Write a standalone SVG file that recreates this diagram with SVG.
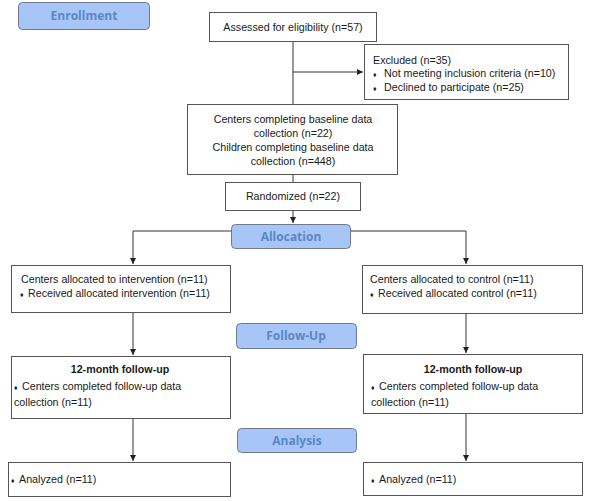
<svg xmlns="http://www.w3.org/2000/svg" width="593" height="501" viewBox="0 0 593 501">
<style>
.bg{fill:#ffffff}
.box{fill:#ffffff;stroke:#555555;stroke-width:1}
.stage{fill:#a8c5f8;stroke:#6f7a8c;stroke-width:1}
.st{font-family:"Open Sans","Liberation Sans",sans-serif;font-weight:700;font-size:12px;fill:#5b87c4;text-anchor:middle}
.t{font-family:"Liberation Sans",Arial,sans-serif;font-size:10.7px;fill:#1a1a1a}
.c{text-anchor:middle}
.b{font-weight:700}
.bul{font-size:7px}
.ln{fill:none;stroke:#333333;stroke-width:1}
</style>
<defs>
<marker id="ah" markerWidth="8" markerHeight="8" refX="6" refY="3" orient="auto" markerUnits="userSpaceOnUse">
<path d="M0,0 L6,3 L0,6 z" fill="#222222"/>
</marker>
</defs>
<rect class="bg" x="0" y="0" width="593" height="501"/>

<g id="connectors">
<line class="ln" x1="293" y1="41" x2="293" y2="104"/>
<line class="ln" x1="293" y1="72" x2="363" y2="72" marker-end="url(#ah)"/>
<line class="ln" x1="293" y1="174" x2="293" y2="182"/>
<line class="ln" x1="293" y1="210" x2="293" y2="223" marker-end="url(#ah)"/>
<line class="ln" x1="133" y1="231" x2="232" y2="231"/>
<line class="ln" x1="350" y1="231" x2="466" y2="231"/>
<line class="ln" x1="133" y1="231" x2="133" y2="264" marker-end="url(#ah)"/>
<line class="ln" x1="466" y1="231" x2="466" y2="264" marker-end="url(#ah)"/>
<line class="ln" x1="133" y1="312" x2="133" y2="355" marker-end="url(#ah)"/>
<line class="ln" x1="466" y1="313" x2="466" y2="353" marker-end="url(#ah)"/>
<line class="ln" x1="133" y1="418" x2="133" y2="461" marker-end="url(#ah)"/>
<line class="ln" x1="466" y1="413" x2="466" y2="461" marker-end="url(#ah)"/>
</g>

<g id="enrollment">
<rect class="stage" x="18.5" y="2.5" width="131" height="27" rx="4"/>
<text class="st" x="84" y="20">Enrollment</text>
</g>

<g id="assessed">
<rect class="box" x="209.5" y="12.5" width="167" height="29"/>
<text class="t c" x="293" y="31">Assessed for eligibility (n=57)</text>
</g>

<g id="excluded">
<rect class="box" x="364.5" y="44.5" width="204" height="55"/>
<text class="t" x="373" y="64">Excluded (n=35)</text>
<text class="t" y="77"><tspan class="bul" x="373">♦</tspan><tspan x="384">Not meeting inclusion criteria (n=10)</tspan></text>
<text class="t" y="91"><tspan class="bul" x="373">♦</tspan><tspan x="384">Declined to participate (n=25)</tspan></text>
</g>

<g id="baseline">
<rect class="box" x="187.5" y="104.5" width="210" height="70"/>
<text class="t c" x="293" y="123">Centers completing baseline data</text>
<text class="t c" x="293" y="137">collection (n=22)</text>
<text class="t c" x="293" y="151">Children completing baseline data</text>
<text class="t c" x="293" y="165">collection (n=448)</text>
</g>

<g id="randomized">
<rect class="box" x="225.5" y="182.5" width="135" height="28"/>
<text class="t c" x="293" y="200">Randomized (n=22)</text>
</g>

<g id="allocation">
<rect class="stage" x="231.5" y="224.5" width="119" height="24" rx="4"/>
<text class="st" x="291" y="241">Allocation</text>
</g>

<g id="alloc-intervention">
<rect class="box" x="11.5" y="265.5" width="219" height="47"/>
<text class="t" x="21" y="283">Centers allocated to intervention (n=11)</text>
<text class="t" y="297"><tspan class="bul" x="20">♦</tspan><tspan x="28">Received allocated intervention (n=11)</tspan></text>
</g>

<g id="alloc-control">
<rect class="box" x="362.5" y="265.5" width="220" height="48"/>
<text class="t" x="370" y="283">Centers allocated to control (n=11)</text>
<text class="t" y="297"><tspan class="bul" x="370">♦</tspan><tspan x="378">Received allocated control (n=11)</tspan></text>
</g>

<g id="followup">
<rect class="stage" x="236.5" y="323.5" width="120" height="25" rx="4"/>
<text class="st" x="296" y="340">Follow-Up</text>
</g>

<g id="fu-intervention">
<rect class="box" x="11.5" y="356.5" width="219" height="62"/>
<text class="t c b" x="120" y="373">12-month follow-up</text>
<text class="t" y="390"><tspan class="bul" x="14">♦</tspan><tspan x="22">Centers completed follow-up data</tspan></text>
<text class="t" x="14" y="406">collection (n=11)</text>
</g>

<g id="fu-control">
<rect class="box" x="363.5" y="354.5" width="219" height="59"/>
<text class="t c b" x="473" y="373">12-month follow-up</text>
<text class="t" y="390"><tspan class="bul" x="371">♦</tspan><tspan x="379">Centers completed follow-up data</tspan></text>
<text class="t" x="371" y="406">collection (n=11)</text>
</g>

<g id="analysis">
<rect class="stage" x="237.5" y="428.5" width="119" height="24" rx="4"/>
<text class="st" x="297" y="445">Analysis</text>
</g>

<g id="an-intervention">
<rect class="box" x="8.5" y="462.5" width="222" height="34"/>
<text class="t" y="483"><tspan class="bul" x="11">♦</tspan><tspan x="19">Analyzed (n=11)</tspan></text>
</g>

<g id="an-control">
<rect class="box" x="363.5" y="462.5" width="219" height="33"/>
<text class="t" y="483"><tspan class="bul" x="371">♦</tspan><tspan x="379">Analyzed (n=11)</tspan></text>
</g>
</svg>
